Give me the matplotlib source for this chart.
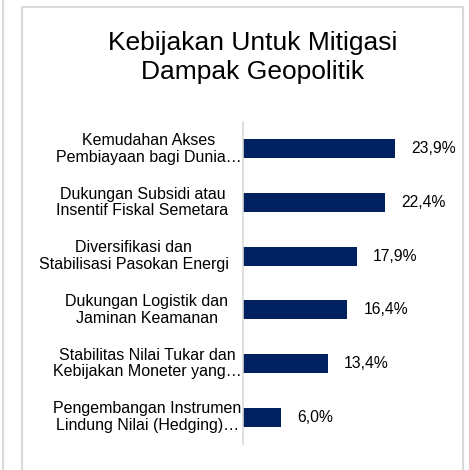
import matplotlib.pyplot as plt
from matplotlib.lines import Line2D
from matplotlib.patches import Rectangle

plt.rcParams['font.family'] = ['Liberation Sans', 'DejaVu Sans']

categories = [
    'Kemudahan Akses\nPembiayaan bagi Dunia\u2026',
    'Dukungan Subsidi atau\nInsentif Fiskal Semetara',
    'Diversifikasi dan\nStabilisasi Pasokan Energi',
    'Dukungan Logistik dan\nJaminan Keamanan',
    'Stabilitas Nilai Tukar dan\nKebijakan Moneter yang\u2026',
    'Pengembangan Instrumen\nLindung Nilai (Hedging)\u2026',
]
values = [23.9, 22.4, 17.9, 16.4, 13.4, 6.0]
value_labels = ['23,9%', '22,4%', '17,9%', '16,4%', '13,4%', '6,0%']

W, H = 469, 470
fig = plt.figure(figsize=(W / 100, H / 100), dpi=100)

# frames around the chart (panel border and neighbour's edge)
fig.add_artist(Rectangle((22 / W, -0.05), (463 - 22) / W, 1 - 7 / H + 0.05,
                         transform=fig.transFigure, fill=False,
                         edgecolor='#d9d9d9', linewidth=1.5))
fig.add_artist(Line2D([3 / W, 3 / W], [0, 1], transform=fig.transFigure,
                      color='#d9d9d9', linewidth=1.5))

ax = fig.add_axes([243 / W, (H - 444) / H, (455 - 243) / W, 322 / H])
pos = list(range(len(categories)))
ax.barh(pos, values, height=0.36, color='#002060')
ax.set_ylim(len(categories) - 0.5, -0.5)
ax.set_xlim(0, (455 - 243) / 6.36)

for p, v, lab in zip(pos, values, value_labels):
    ax.annotate(lab, (v, p), xytext=(11.5, 0), textcoords='offset points',
                va='center', ha='left', fontsize=11.3, color='#000000')

# category labels: truncated ones (with ellipsis) sit closer to the axis
for p, cat in zip(pos, categories):
    pad = 1 if cat.endswith('\u2026') else 10.5
    ax.annotate(cat, (0, p), xycoords=('axes fraction', 'data'),
                xytext=(-pad, 0), textcoords='offset points',
                ha='right', va='center', fontsize=11.5,
                multialignment='center', linespacing=1.12)

ax.set_yticks([])
ax.set_xticks([])
for s in ['top', 'right', 'bottom']:
    ax.spines[s].set_visible(False)
ax.spines['left'].set_color('#d9d9d9')
ax.spines['left'].set_linewidth(1.2)

fig.text(253 / W, 1 - 31 / H, 'Kebijakan Untuk Mitigasi\nDampak Geopolitik',
         ha='center', va='top', fontsize=19, linespacing=1.28,
         multialignment='center')

fig.savefig('out.png', dpi=100)
